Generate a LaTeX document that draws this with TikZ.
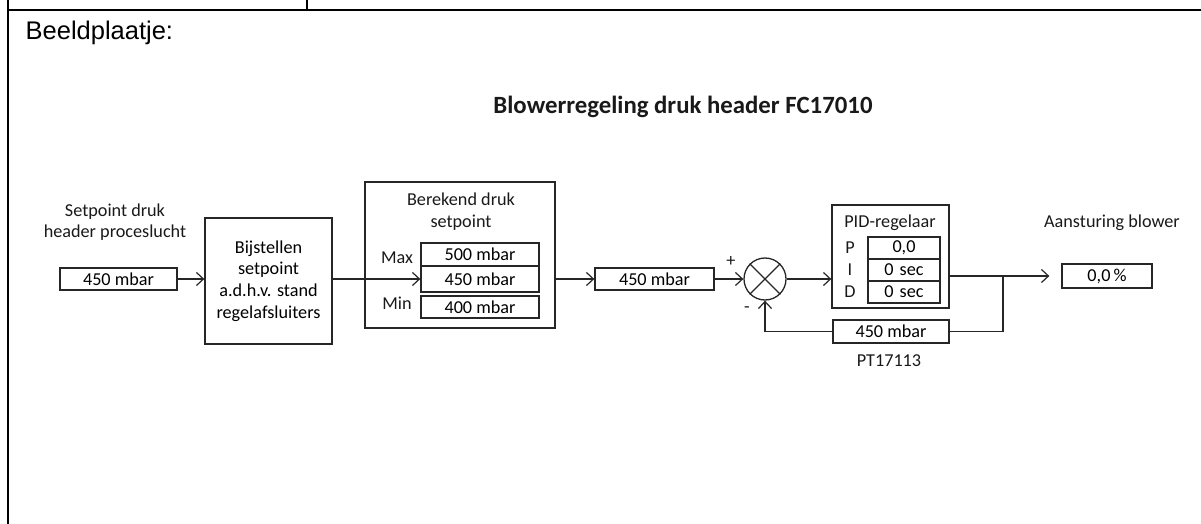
\documentclass[tikz,border=0pt]{standalone}
\usepackage{fontspec}
\setmainfont{Carlito}
\newfontfamily\arialfont{Liberation Sans}
\usetikzlibrary{arrows.meta,positioning,calc}

\begin{document}
\begin{tikzpicture}[x=1pt, y=-1pt, font=\fontsize{18.2}{21.7}\selectfont, line width=1.3pt]
\tikzstyle{frame}=[line width=2.6pt]
\tikzstyle{box}=[draw=black!85, align=center, inner sep=0pt]
\tikzstyle{valbox}=[box, minimum height=22pt]
\tikzstyle{txt}=[align=center, inner sep=0pt, text=black!90]
\tikzstyle{flow}=[draw=black!85, -{Straight Barb[length=7pt, width=13pt, line width=1.2pt]}]
\useasboundingbox (0,0) rectangle (1201,524);
% table frame
\draw[frame] (8,0) -- (8,524);
\draw[frame] (8,10) -- (1201,10);
\draw[line width=1.6pt] (307,0) -- (307,10);
\node[anchor=west, inner sep=0pt, font=\arialfont\fontsize{25.5}{30}\selectfont] (hdr) at (25,33) {Beeldplaatje:};
% title
\node[txt, font=\fontsize{24.8}{28}\selectfont\bfseries] (title) at (683,107) {Blowerregeling druk header FC17010};
% input setpoint
\node[txt] (splbl) at (115,222) {Setpoint druk\\header proceslucht};
\node[valbox, minimum width=117pt] (spin) at (118.5,279) {450 mbar};
\node[box, minimum width=127pt, minimum height=126pt] (adj) at (268.5,281) {Bijstellen\\setpoint\\a.d.h.v. stand\\regelafsluiters};
% calculated setpoint
\node[box, minimum width=190pt, minimum height=146pt] (calc) at (460,255) {};
\node[txt] (calclbl) at (461,211.5) {Berekend druk\\setpoint};
\node[box, minimum width=118pt, minimum height=23pt] (spmax) at (480,254.5) {500 mbar};
\node[box, minimum width=118pt, minimum height=26pt] (spmid) at (480,279) {450 mbar};
\node[box, minimum width=118pt, minimum height=22pt] (spmin) at (480,307) {400 mbar};
\node[txt] (maxlbl) at (397,258) {Max};
\node[txt] (minlbl) at (397,303) {Min};
% setpoint to controller
\node[valbox, minimum width=119pt] (spout) at (654.5,279) {450 mbar};
\node[draw=black!85, circle, minimum size=42pt, inner sep=0pt] (sum) at (765,279) {};
\draw[black!85] (sum.north west) -- (sum.south east) (sum.north east) -- (sum.south west);
\node[txt] (plus) at (731,261) {+};
\node[txt] (minus) at (747,310) {-};
% PID
\node[box, minimum width=117pt, minimum height=103pt] (pid) at (890.5,256.5) {};
\node[txt] (pidlbl) at (890,223) {PID-regelaar};
\node[valbox, minimum width=72pt] (kp) at (904,248) {0,0};
\node[valbox, minimum width=72pt] (ki) at (904,270) {0\,\,sec};
\node[valbox, minimum width=72pt] (kd) at (904,292) {0\,\,sec};
\node[txt] (plbl) at (850,248) {P};
\node[txt] (ilbl) at (850,270) {I};
\node[txt] (dlbl) at (850,292) {D};
% feedback and output
\node[box, minimum width=116pt, minimum height=23pt] (pv) at (891,331.5) {450 mbar};
\node[txt] (pvlbl) at (889,361) {PT17113};
\node[valbox, minimum width=90pt, minimum height=24pt] (out) at (1107,276) {0,0\,\%};
\node[txt] (outlbl) at (1112,223) {Aansturing blower};
\coordinate (jn) at (1003,276);
% connectors
\draw[flow] (spin.east) -- (adj.west |- spin.east);
\draw[flow] (adj.east |- spmid.west) -- (spmid.west);
\draw[flow] (calc.east |- spout.west) -- (spout.west);
\draw[flow] (spout.east) -- (sum.west);
\draw[flow] (sum.east) -- (pid.west |- sum.east);
\draw[flow, shorten >=12pt] (pid.east |- out.west) -- (out.west);
\draw[black!85] (jn) |- (pv.east);
\draw[flow] (pv.west) -| (sum.south);
\end{tikzpicture}
\end{document}
